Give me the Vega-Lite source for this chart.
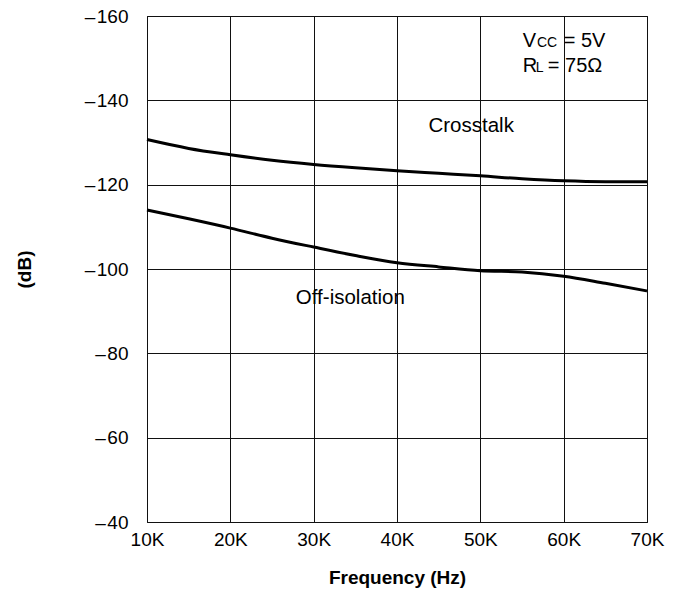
{
  "$schema": "https://vega.github.io/schema/vega-lite/v6.json",
  "width": 500,
  "height": 506,
  "autosize": {"type": "none"},
  "padding": {"left": 147, "top": 16, "right": 27, "bottom": 72},
  "background": "white",
  "config": {
    "font": "Liberation Sans",
    "view": {"stroke": "#000", "strokeWidth": 1},
    "axis": {
      "grid": true,
      "gridColor": "#111",
      "gridOpacity": 1,
      "gridWidth": 1,
      "domain": false,
      "ticks": false,
      "labelFont": "Liberation Sans",
      "labelFontSize": 19,
      "labelColor": "#000",
      "labelFlush": false,
      "labelOverlap": false,
      "titleFont": "Liberation Sans",
      "titleFontSize": 19,
      "titleFontWeight": "bold",
      "titleColor": "#000"
    }
  },
  "datasets": {
    "curves": [
      {"f": 10000, "db": -130.7, "series": "Crosstalk"},
      {"f": 15000, "db": -128.6, "series": "Crosstalk"},
      {"f": 20000, "db": -127.1, "series": "Crosstalk"},
      {"f": 25000, "db": -125.8, "series": "Crosstalk"},
      {"f": 30000, "db": -124.8, "series": "Crosstalk"},
      {"f": 35000, "db": -124.0, "series": "Crosstalk"},
      {"f": 40000, "db": -123.3, "series": "Crosstalk"},
      {"f": 45000, "db": -122.7, "series": "Crosstalk"},
      {"f": 50000, "db": -122.1, "series": "Crosstalk"},
      {"f": 55000, "db": -121.4, "series": "Crosstalk"},
      {"f": 60000, "db": -120.9, "series": "Crosstalk"},
      {"f": 65000, "db": -120.7, "series": "Crosstalk"},
      {"f": 70000, "db": -120.7, "series": "Crosstalk"},
      {"f": 10000, "db": -114.0, "series": "Off-isolation"},
      {"f": 15000, "db": -111.9, "series": "Off-isolation"},
      {"f": 20000, "db": -109.7, "series": "Off-isolation"},
      {"f": 25000, "db": -107.3, "series": "Off-isolation"},
      {"f": 30000, "db": -105.2, "series": "Off-isolation"},
      {"f": 35000, "db": -103.2, "series": "Off-isolation"},
      {"f": 40000, "db": -101.5, "series": "Off-isolation"},
      {"f": 45000, "db": -100.5, "series": "Off-isolation"},
      {"f": 50000, "db": -99.6, "series": "Off-isolation"},
      {"f": 55000, "db": -99.3, "series": "Off-isolation"},
      {"f": 60000, "db": -98.3, "series": "Off-isolation"},
      {"f": 65000, "db": -96.6, "series": "Off-isolation"},
      {"f": 70000, "db": -94.8, "series": "Off-isolation"}
    ],
    "labels": [
      {"label": "Crosstalk", "f": 48900, "db": -133.9},
      {"label": "Off-isolation", "f": 34400, "db": -93.1}
    ],
    "condMain": [
      {"label": "V", "f": 55100, "db": -152.6},
      {"label": "= 5V", "f": 60000, "db": -152.6},
      {"label": "R", "f": 55100, "db": -146.7},
      {"label": "= 75Ω", "f": 58100, "db": -146.7}
    ],
    "condSub": [
      {"label": "CC", "f": 56800, "db": -152.6},
      {"label": "L", "f": 56650, "db": -146.7}
    ]
  },
  "layer": [
    {
      "data": {"name": "curves"},
      "mark": {"type": "line", "color": "#000", "strokeWidth": 3, "interpolate": "monotone"},
      "encoding": {
        "x": {
          "field": "f", "type": "quantitative",
          "scale": {"domain": [10000, 70000], "nice": false, "zero": false},
          "axis": {
            "values": [10000, 20000, 30000, 40000, 50000, 60000, 70000],
            "labelExpr": "datum.value / 1000 + 'K'",
            "labelPadding": 8,
            "title": "Frequency (Hz)",
            "titlePadding": 19
          }
        },
        "y": {
          "field": "db", "type": "quantitative",
          "scale": {"domain": [-160, -40], "reverse": true, "nice": false, "zero": false},
          "axis": {
            "values": [-160, -140, -120, -100, -80, -60, -40],
            "labelExpr": "'\u2013\u200a' + abs(datum.value)",
            "labelPadding": 19,
            "title": "(dB)",
            "titlePadding": 50
          }
        },
        "detail": {"field": "series"}
      }
    },
    {
      "data": {"name": "labels"},
      "mark": {"type": "text", "fontSize": 20.5, "align": "center", "baseline": "middle", "color": "#000", "font": "Liberation Sans"},
      "encoding": {
        "x": {"field": "f", "type": "quantitative"},
        "y": {"field": "db", "type": "quantitative"},
        "text": {"field": "label"}
      }
    },
    {
      "data": {"name": "condMain"},
      "mark": {"type": "text", "fontSize": 20, "align": "left", "baseline": "alphabetic", "color": "#000", "font": "Liberation Sans"},
      "encoding": {
        "x": {"field": "f", "type": "quantitative"},
        "y": {"field": "db", "type": "quantitative"},
        "text": {"field": "label"}
      }
    },
    {
      "data": {"name": "condSub"},
      "mark": {"type": "text", "fontSize": 14, "align": "left", "baseline": "alphabetic", "color": "#000", "font": "Liberation Sans"},
      "encoding": {
        "x": {"field": "f", "type": "quantitative"},
        "y": {"field": "db", "type": "quantitative"},
        "text": {"field": "label"}
      }
    }
  ]
}
